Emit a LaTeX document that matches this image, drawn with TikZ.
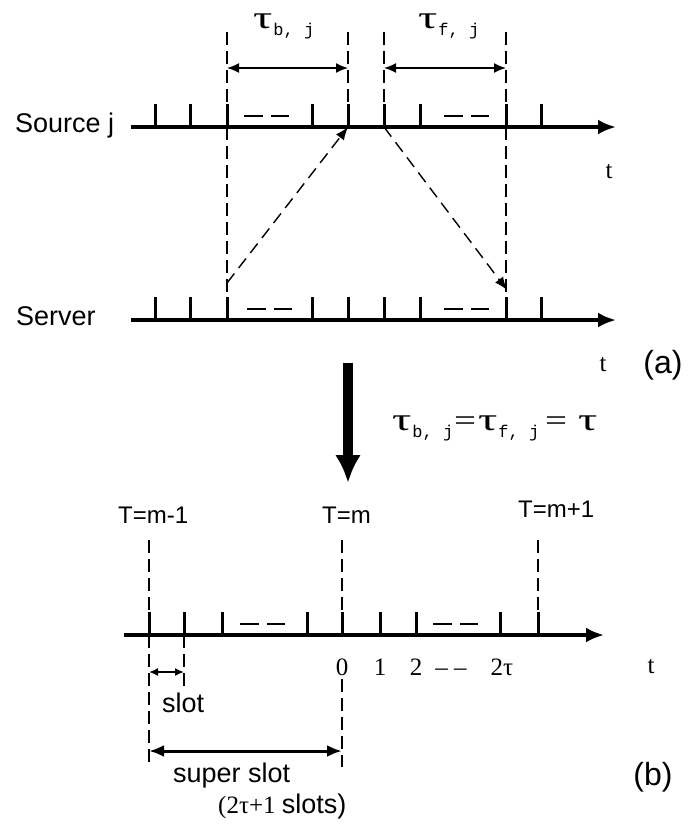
\documentclass[tikz,border=0pt]{standalone}
\usepackage{fontspec}
\usepackage{graphicx}
\setmainfont{Liberation Serif}
\newfontfamily\sansf{Liberation Sans}
\newfontfamily\monof{Liberation Mono}
\usetikzlibrary{arrows.meta}
\newcommand{\tauglyph}{{\fontsize{32}{32}\selectfont\scalebox{1.5}[1]{τ}}}
\newcommand{\taulab}[1]{\tauglyph\hspace{1pt}\raisebox{-7pt}{\monof\fontsize{17}{17}\selectfont #1}}
\begin{document}
\begin{tikzpicture}[x=1pt,y=-1pt,
  axis/.style={line width=3.5pt,-{Latex[length=18pt,width=15pt]}},
  tickmark/.style={line width=3pt},
  vdash/.style={line width=1.4pt,dash pattern=on 13pt off 6pt},
  dimarrow/.style={line width=1.6pt,{Latex[length=12pt,width=10pt]}-{Latex[length=12pt,width=10pt]}},
  gapdash/.style={line width=2.2pt,dash pattern=on 19pt off 8pt},
  sendarrow/.style={line width=1.4pt,dash pattern=on 12pt off 7pt,-{Latex[length=13pt,width=10pt]}},
  lab/.style={font=\sansf\fontsize{27}{30}\selectfont,inner sep=0pt},
  tlab/.style={font=\sansf\fontsize{24}{28}\selectfont,inner sep=0pt},
  plab/.style={font=\sansf\fontsize{32}{36}\selectfont,inner sep=0pt},
  slab/.style={font=\fontsize{25}{28}\selectfont,inner sep=0pt},
  glab/.style={inner sep=0pt}
]
\useasboundingbox (0,0) rectangle (693,831);

% ---------- (a) ----------
% labels
\node[lab,anchor=base west] (src) at (15,132) {Source j};
\node[lab,anchor=base west] (srv) at (16,325) {Server};
\node[glab,anchor=base west] (tb) at (253,28) {\taulab{b, j}};
\node[glab,anchor=base west] (tf) at (418,28) {\taulab{f, j}};
\node[slab] (t1) at (609,172) {t};
\node[slab] (t2) at (603,365) {t};
\node[plab] (pa) at (663,365) {(a)};

% source axis
\coordinate (s0) at (131,127); \coordinate (s1) at (616,127);
\draw[axis] (s0) -- (s1);
\foreach \x in {155,190,227,312,348,384,420,506,541}
  \draw[tickmark] (\x,127) -- (\x,104);
\draw[gapdash] (244,116) -- (289,116);
\draw[gapdash] (444,116) -- (489,116);

% server axis
\coordinate (v0) at (131,320); \coordinate (v1) at (616,320);
\draw[axis] (v0) -- (v1);
\foreach \x in {155,190,227,312,348,384,420,506,541}
  \draw[tickmark] (\x,320) -- (\x,297);
\draw[gapdash] (247,309) -- (292,309);
\draw[gapdash] (444,309) -- (489,309);

% vertical dashed guides
\coordinate (g1t) at (227,32); \coordinate (g1b) at (227,297);
\coordinate (g2t) at (348,32); \coordinate (g2b) at (348,127);
\coordinate (g3t) at (384,32); \coordinate (g3b) at (384,127);
\coordinate (g4t) at (506,32); \coordinate (g4b) at (506,297);
\draw[vdash] (g1t) -- (g1b);
\draw[vdash] (g2t) -- (g2b);
\draw[vdash] (g3t) -- (g3b);
\draw[vdash] (g4t) -- (g4b);

% delay arrows
\coordinate (d1a) at (227,68); \coordinate (d1b) at (348,68);
\coordinate (d2a) at (384,68); \coordinate (d2b) at (506,68);
\draw[dimarrow] (d1a) -- (d1b);
\draw[dimarrow] (d2a) -- (d2b);

% message arrows
\coordinate (m1a) at (227,283); \coordinate (m1b) at (348,127);
\coordinate (m2a) at (384,127); \coordinate (m2b) at (507,290);
\draw[sendarrow] (m1a) -- (m1b);
\draw[sendarrow] (m2a) -- (m2b);

% ---------- transition ----------
\coordinate (ba) at (348,363); \coordinate (bb) at (348,483);
\draw[line width=10pt,-{Latex[length=28pt,width=26pt]}] (ba) -- (bb);
\node[glab,anchor=base west] (eq) at (392,430)
  {\makebox[60pt][l]{\taulab{b, j}}%
   \makebox[26pt][c]{\fontsize{30}{30}\selectfont\scalebox{1.3}[1]{=}}%
   \makebox[56pt][l]{\taulab{f, j}}%
   \makebox[44pt][c]{\fontsize{30}{30}\selectfont\scalebox{1.3}[1]{=}}%
   \tauglyph};

% ---------- (b) ----------
\node[tlab,anchor=base west] (Tm1) at (118,523) {T=m-1};
\node[tlab,anchor=base west] (Tm) at (322,523) {T=m};
\node[tlab,anchor=base west] (Tp1) at (518,517) {T=m+1};

\coordinate (b0) at (124,635); \coordinate (b1) at (604,635);
\draw[axis] (b0) -- (b1);
\foreach \x in {149,184,222,307,342,380,416,500,538}
  \draw[tickmark] (\x,635) -- (\x,612);
\draw[gapdash] (240,624) -- (285,624);
\draw[gapdash] (433,624) -- (478,624);

\coordinate (h1t) at (149,540); \coordinate (h1b) at (149,767);
\coordinate (h2t) at (342,540); \coordinate (h2b) at (342,612);
\coordinate (h3t) at (538,540); \coordinate (h3b) at (538,612);
\coordinate (h4t) at (184,635); \coordinate (h4b) at (184,690);
\coordinate (h5t) at (342,679); \coordinate (h5b) at (342,767);
\draw[vdash] (h1t) -- (h1b);
\draw[vdash] (h2t) -- (h2b);
\draw[vdash] (h3t) -- (h3b);
\draw[vdash] (h4t) -- (h4b);
\draw[vdash] (h5t) -- (h5b);

\node[slab,anchor=base] (n0) at (342,675) {0};
\node[slab,anchor=base] (n1) at (380,675) {1};
\node[slab,anchor=base] (n2) at (416,675) {2};
\node[slab,anchor=base] (nd) at (451,675) {– –};
\node[slab,anchor=base] (n2t) at (502,675) {2τ};
\node[slab] (t3) at (651,667) {t};

\coordinate (sl1) at (149,672); \coordinate (sl2) at (184,672);
\draw[line width=1.6pt,{Latex[length=9pt,width=8pt]}-{Latex[length=9pt,width=8pt]}] (sl1) -- (sl2);
\node[lab,anchor=base west] (slot) at (162,712) {slot};

\coordinate (ss1) at (149,751); \coordinate (ss2) at (342,751);
\draw[line width=3pt,{Latex[length=15pt,width=12pt]}-{Latex[length=15pt,width=12pt]}] (ss1) -- (ss2);
\node[lab,anchor=base west] (sslot) at (173,782) {super slot};
\node[glab,anchor=base west] (ssn) at (218,813)
  {\fontsize{25}{28}\selectfont (2τ+1\ {\sansf\fontsize{27}{30}\selectfont slots)}};
\node[plab] (pb) at (653,777) {(b)};
\end{tikzpicture}
\end{document}
